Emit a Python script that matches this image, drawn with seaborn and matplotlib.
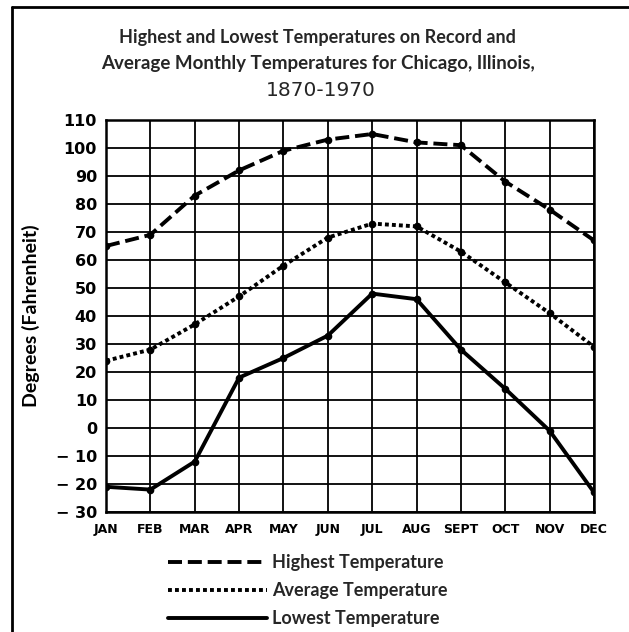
import matplotlib
matplotlib.use("Agg")
import matplotlib.pyplot as plt
from matplotlib.lines import Line2D
import seaborn as sns
import pandas as pd

# Monthly record temperatures for Chicago, 1870-1970 (degrees Fahrenheit)
months = ["JAN", "FEB", "MAR", "APR", "MAY", "JUN", "JUL", "AUG", "SEPT", "OCT", "NOV", "DEC"]
highest = [65, 69, 83, 92, 99, 103, 105, 102, 101, 88, 78, 67]
average = [24, 28, 37, 47, 58, 68, 73, 72, 63, 52, 41, 29]
lowest = [-21, -22, -12, 18, 25, 33, 48, 46, 28, 14, -1, -23]

series_names = ["Highest Temperature", "Average Temperature", "Lowest Temperature"]
y_ticks = list(range(-30, 111, 10))
y_tick_labels = [str(v) if v >= 0 else f"\u2212 {abs(v)}" for v in y_ticks]

sns.set_theme(style="white")
plt.rcParams["font.family"] = ["Lato", "DejaVu Sans"]

df = pd.DataFrame({
    "pos": list(range(len(months))) * 3,
    "temp": highest + average + lowest,
    "series": [s for s in series_names for _ in months],
})

W, H = 629, 632
fig = plt.figure(figsize=(W / 100, H / 100), dpi=100)
ax = fig.add_axes([106 / W, 1 - 512 / H, (594 - 106) / W, (512 - 120) / H])

dash_styles = {
    "Highest Temperature": (3.6, 1.5),
    "Average Temperature": (1.0, 0.8),
    "Lowest Temperature": "",
}
sns.lineplot(
    data=df, x="pos", y="temp", style="series", style_order=series_names,
    dashes=dash_styles, markers={s: "o" for s in series_names},
    color="black", linewidth=2.8, markersize=5.5, markeredgewidth=0,
    legend=False, ax=ax, zorder=3,
)

ax.set_xlim(0, len(months) - 1)
ax.set_ylim(-30, 110)
ax.set_xticks(range(len(months)))
ax.set_xticklabels(months, family=["Liberation Sans Narrow", "DejaVu Sans"],
                   fontweight="bold", fontsize=9)
ax.set_yticks(y_ticks)
ax.set_yticklabels(y_tick_labels, family="DejaVu Sans", fontweight="bold", fontsize=11.5)
ax.tick_params(axis="both", length=0, colors="black")
ax.tick_params(axis="y", pad=6.5)
ax.tick_params(axis="x", pad=8)
ax.grid(True, color="black", linewidth=1.3)
for sp in ax.spines.values():
    sp.set_visible(True)
    sp.set_color("black")
    sp.set_linewidth(1.8)
ax.set_xlabel("")
ax.set_ylabel("Degrees (Fahrenheit)", fontweight="bold", fontsize=14, color="black", labelpad=11)

# Title block
fig.text(0.505, 1 - 38 / H, "Highest and Lowest Temperatures on Record and",
         ha="center", va="center", fontsize=13, fontweight="bold")
fig.text(0.505, 1 - 64 / H, "Average Monthly Temperatures for Chicago, Illinois,",
         ha="center", va="center", fontsize=13.5, fontweight="bold")
fig.text(0.51, 1 - 90 / H, "1870-1970", ha="center", va="center",
         fontsize=14.5, family="DejaVu Sans")

# Legend below the plot
handles = [
    Line2D([], [], color="black", linewidth=2.8, dashes=dash_styles["Highest Temperature"]),
    Line2D([], [], color="black", linewidth=2.8, dashes=dash_styles["Average Temperature"]),
    Line2D([], [], color="black", linewidth=2.8, linestyle="-"),
]
fig.legend(handles, series_names, loc="upper left", bbox_to_anchor=(159 / W, 1 - 545 / H),
           frameon=False, borderpad=0, handlelength=5.5, handletextpad=0.25,
           labelspacing=0.62, prop={"weight": "bold", "size": 13})

# Page border (top and left edges)
fig.add_artist(Line2D([12 / W, 1], [1 - 7 / H, 1 - 7 / H], transform=fig.transFigure,
                      color="black", linewidth=2))
fig.add_artist(Line2D([12 / W, 12 / W], [0, 1 - 7 / H], transform=fig.transFigure,
                      color="black", linewidth=2))

fig.savefig("out.png", dpi=100, facecolor="white")
